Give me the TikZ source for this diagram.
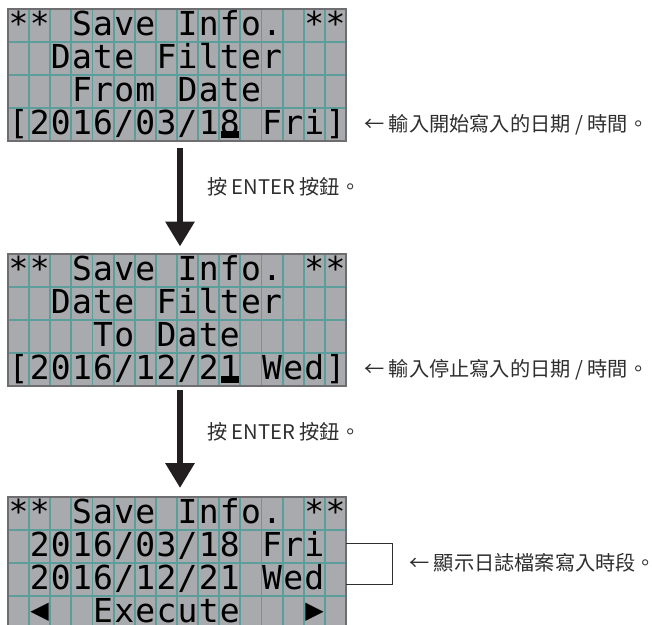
\documentclass[tikz,border=0pt]{standalone}
\usepackage{fontspec}
\newfontfamily\cjk{Noto Sans CJK TC}
\newfontfamily\lcdfont{DejaVu Sans Mono}
\newfontfamily\symfont{DejaVu Sans}
\usetikzlibrary{arrows.meta}
\definecolor{lcdbg}{HTML}{A8AAAD}
\definecolor{lcdgrid}{HTML}{5C9E9B}
\definecolor{lcdframe}{HTML}{6E6E70}
\definecolor{ink}{HTML}{231F20}
\definecolor{labelgray}{HTML}{2E2E2E}
\tikzset{
  lcdpanel/.style={draw=lcdframe, line width=1.2pt, fill=lcdbg, minimum width=338pt, minimum height=132pt, inner sep=0pt, outer sep=0pt, anchor=north west},
  gridline/.style={draw=lcdgrid, line width=1.8pt},
  lcdchar/.style={font=\lcdfont\fontsize{33}{33}\selectfont, text=black, inner sep=0pt, anchor=base},
  lcdsym/.style={font=\symfont\fontsize{24}{24}\selectfont, text=black, inner sep=0pt, anchor=center},
  cursorbar/.style={fill=black},
  bigarrow/.style={draw=ink, line width=6.5pt, -{Triangle[width=28pt,length=25pt]}},
  cjklabel/.style={font=\cjk\fontsize{20.2}{20.2}\selectfont, text=labelgray, inner sep=0pt, anchor=west},
  bracketline/.style={draw=labelgray, line width=0.9pt},
}
% panel: #1 name, #2 top y
\newcommand\lcdscreen[2]{%
  \node[lcdpanel] (#1) at (8,#2) {};
  \foreach \k in {1,...,15} \draw[gridline] (8+21.125*\k,#2+0.6) -- (8+21.125*\k,#2+131.4);
  \foreach \k in {1,2,3} \draw[gridline] (8.6,#2+33*\k) -- (345.4,#2+33*\k);
}
% word: #1 panel name, #2 top y, #3 row (1-4), #4 start column, #5 chars
\newcommand\lcdword[5]{%
  \foreach \ch [count=\i from #4] in {#5}
    \node[lcdchar] (#1r#3c\i) at (8+21.125*\i+10.56, #2+33*#3-7) {\ch};
}
\begin{document}
\begin{tikzpicture}[x=1pt,y=-1pt]
\useasboundingbox (0,0) rectangle (652,624);
\clip (0,0) rectangle (652,624);

% ---------- panel 1
\lcdscreen{p1}{9}
\lcdword{p1}{9}{1}{0}{*,*}
\lcdword{p1}{9}{1}{3}{S,a,v,e}
\lcdword{p1}{9}{1}{8}{I,n,f,o,.}
\lcdword{p1}{9}{1}{14}{*,*}
\lcdword{p1}{9}{2}{2}{D,a,t,e}
\lcdword{p1}{9}{2}{7}{F,i,l,t,e,r}
\lcdword{p1}{9}{3}{3}{F,r,o,m}
\lcdword{p1}{9}{3}{8}{D,a,t,e}
\lcdword{p1}{9}{4}{0}{[,2,0,1,6,/,0,3,/,1,8}
\lcdword{p1}{9}{4}{12}{F,r,i,]}
\fill[cursorbar] (221,131) rectangle (239,138);

% ---------- panel 2
\lcdscreen{p2}{254}
\lcdword{p2}{254}{1}{0}{*,*}
\lcdword{p2}{254}{1}{3}{S,a,v,e}
\lcdword{p2}{254}{1}{8}{I,n,f,o,.}
\lcdword{p2}{254}{1}{14}{*,*}
\lcdword{p2}{254}{2}{2}{D,a,t,e}
\lcdword{p2}{254}{2}{7}{F,i,l,t,e,r}
\lcdword{p2}{254}{3}{4}{T,o}
\lcdword{p2}{254}{3}{7}{D,a,t,e}
\lcdword{p2}{254}{4}{0}{[,2,0,1,6,/,1,2,/,2,1}
\lcdword{p2}{254}{4}{12}{W,e,d,]}
\fill[cursorbar] (221,376) rectangle (239,383);

% ---------- panel 3
\lcdscreen{p3}{497}
\lcdword{p3}{497}{1}{0}{*,*}
\lcdword{p3}{497}{1}{3}{S,a,v,e}
\lcdword{p3}{497}{1}{8}{I,n,f,o,.}
\lcdword{p3}{497}{1}{14}{*,*}
\lcdword{p3}{497}{2}{1}{2,0,1,6,/,0,3,/,1,8}
\lcdword{p3}{497}{2}{12}{F,r,i}
\lcdword{p3}{497}{3}{1}{2,0,1,6,/,1,2,/,2,1}
\lcdword{p3}{497}{3}{12}{W,e,d}
\node[lcdsym] (p3left) at (39.7,612) {◀};
\lcdword{p3}{497}{4}{4}{E,x,e,c,u,t,e}
\node[lcdsym] (p3right) at (314.5,612) {▶};

% ---------- arrows
\draw[bigarrow, shorten <=7pt, shorten >=7.5pt] ([xshift=3pt]p1.south) -- ([xshift=3pt]p2.north);
\draw[bigarrow, shorten <=3.5pt, shorten >=9pt] ([xshift=3pt]p2.south) -- ([xshift=3pt]p3.north);

% ---------- labels
\node[cjklabel] (enter1) at (207,187) {按 ENTER 按鈕。};
\node[cjklabel] (enter2) at (207,432) {按 ENTER 按鈕。};
\node[cjklabel] (note1) at (364,125) {← 輸入開始寫入的日期 / 時間。};
\node[cjklabel] (note2) at (364,370) {← 輸入停止寫入的日期 / 時間。};
\node[cjklabel] (note3) at (409,563) {← 顯示日誌檔案寫入時段。};

% ---------- bracket
\coordinate (brtop) at ([yshift=19.5pt]p3.east);
\coordinate (brbot) at ([yshift=-21pt]p3.east);
\draw[bracketline] (brtop) -- ++(46,0) coordinate (brcorner) |- (brbot);
\end{tikzpicture}
\end{document}
